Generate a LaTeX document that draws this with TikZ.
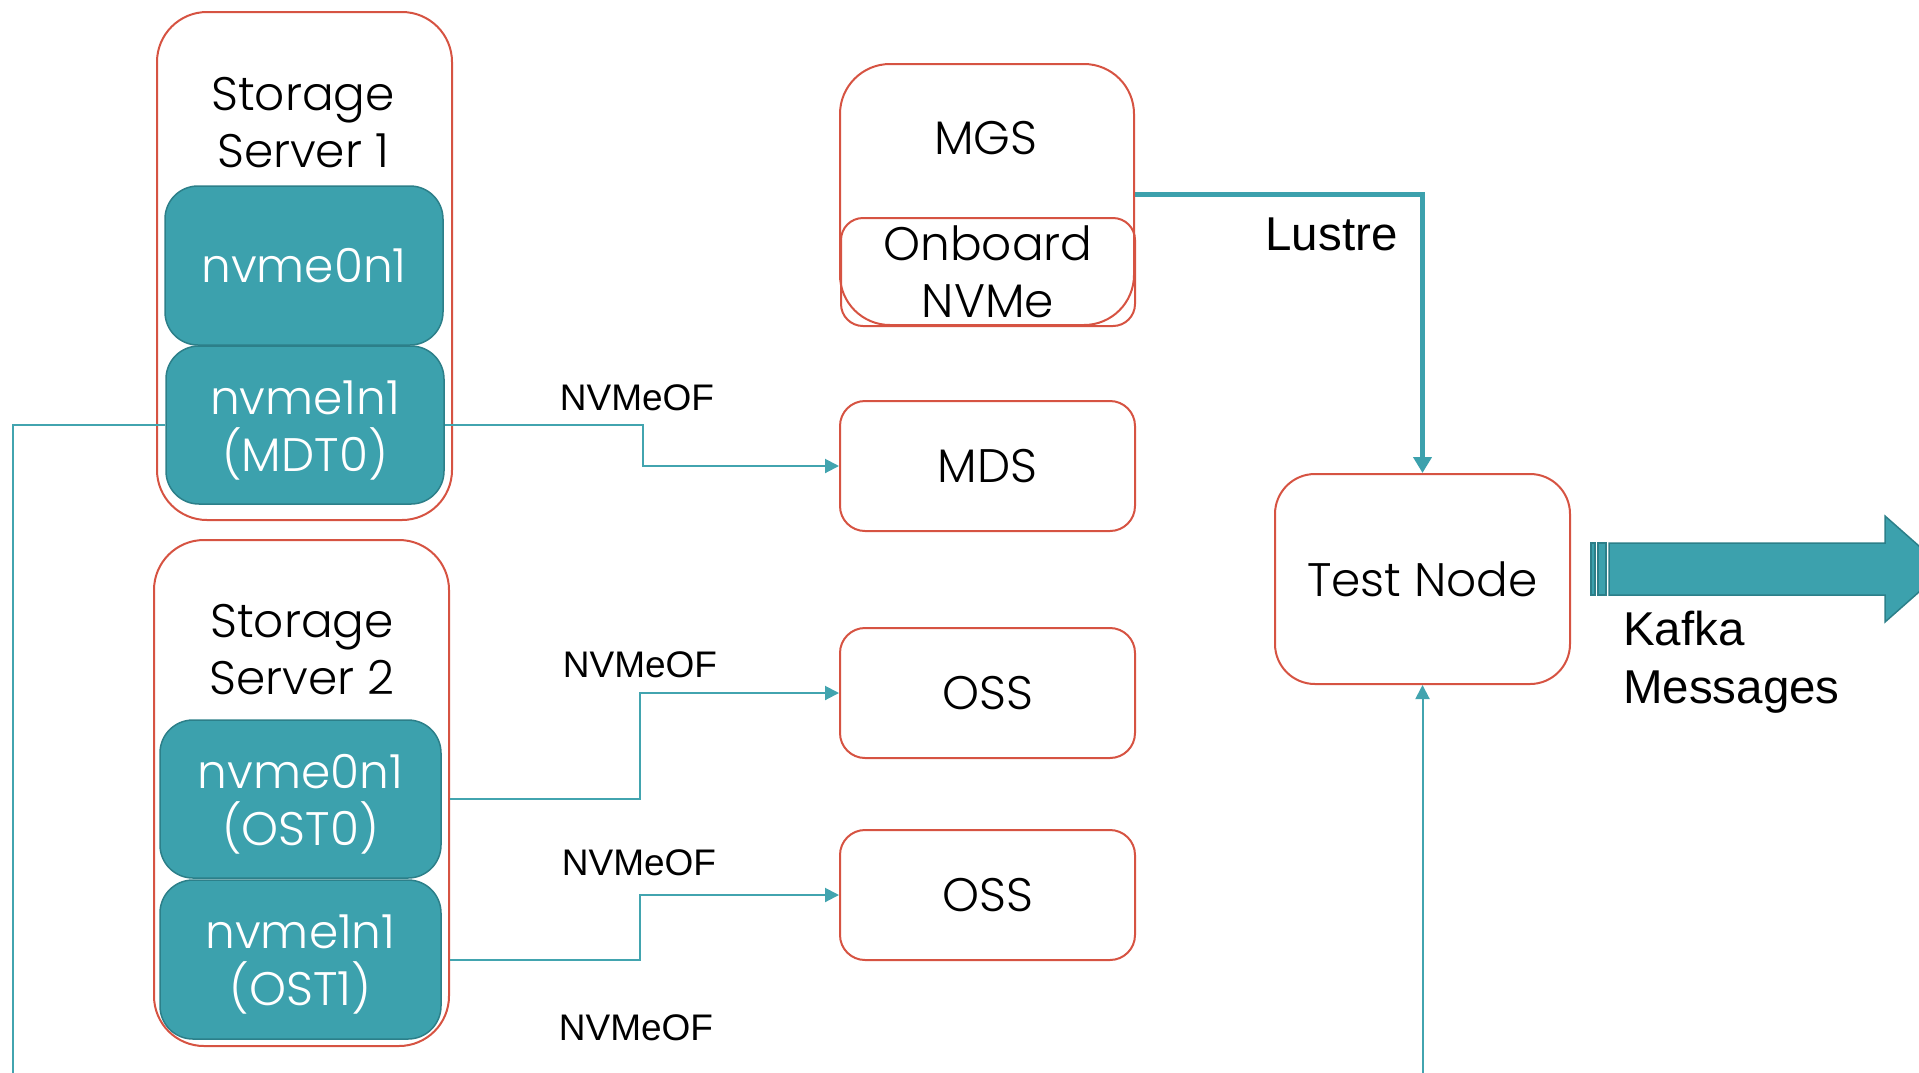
\documentclass[tikz,border=0pt]{standalone}
\usepackage{fontspec}
\setmainfont{Poppins}[UprightFont={* Light}]
\newfontfamily\arial{Liberation Sans}
\usetikzlibrary{arrows.meta}
\definecolor{boxred}{HTML}{D65342}
\definecolor{tealfill}{HTML}{3CA1AD}
\definecolor{tealdk}{HTML}{2C7F89}
\definecolor{tealln}{HTML}{42A4AF}
\newcommand\cgfont{\fontsize{47}{57}\selectfont}
\newcommand\lblfont{\arial\fontsize{37}{44}\selectfont}
\newcommand\bigfont{\arial\fontsize{47.5}{58}\selectfont}
\newcommand\lowstrut{\rule{0pt}{44pt}}
\begin{document}
\begin{tikzpicture}[x=1pt,y=-1pt,
  redbox/.style={draw=boxred, line width=2pt, inner sep=0pt},
  disk/.style={draw=tealdk, fill=tealfill, line width=1.5pt, rounded corners=33pt,
    inner sep=0pt, text=white, align=center, font=\cgfont},
  gtext/.style={inner sep=0pt, align=center, font=\cgfont},
  conn/.style={draw=tealln, line width=2pt, -{Triangle[length=14pt,width=14pt]}},
  plain/.style={draw=tealln, line width=2pt},
  thick conn/.style={draw=tealfill, line width=5.5pt, -{Triangle[length=16pt,width=18pt]}},
  nvlbl/.style={inner sep=0pt, font=\lblfont},
]
\useasboundingbox (0,0) rectangle (1919,1072);
\clip (0,0) rectangle (1919,1072);

% Storage server 1
\node[redbox, rounded corners=50pt, minimum width=295pt, minimum height=508pt] (ss1) at (304.5,266) {};
\node[gtext] (ss1t) at (303,123) {Storage\\Server 1};
\node[disk, minimum width=278pt, minimum height=159pt] (d10) at (304,265.5) {nvme0n1};
\node[disk, minimum width=278pt, minimum height=158pt] (mdt) at (305,425) {\lowstrut nvme1n1\\(MDT0)};

% Storage server 2
\node[redbox, rounded corners=50pt, minimum width=295pt, minimum height=506pt] (ss2) at (301.5,793) {};
\node[gtext] (ss2t) at (302,650) {Storage\\Server 2};
\node[disk, minimum width=281pt, minimum height=158pt] (ost0) at (300.5,799) {\lowstrut nvme0n1\\(OST0)};
\node[disk, minimum width=281pt, minimum height=159pt] (ost1) at (300.5,959.5) {\lowstrut nvme1n1\\(OST1)};

% MGS
\node[redbox, rounded corners=50pt, minimum width=294pt, minimum height=261pt] (mgs) at (987,194.5) {};
\node[gtext] (mgst) at (986,138) {MGS};
\node[redbox, rounded corners=22pt, minimum width=294pt, minimum height=108pt, align=center, font=\cgfont] (onb) at (988,272) {Onboard\\NVMe};

% Servers
\node[redbox, rounded corners=25pt, minimum width=295pt, minimum height=130pt, font=\cgfont] (mds) at (987.5,466) {MDS};
\node[redbox, rounded corners=25pt, minimum width=295pt, minimum height=130pt, font=\cgfont] (oss1) at (987.5,693) {OSS};
\node[redbox, rounded corners=25pt, minimum width=295pt, minimum height=130pt, font=\cgfont] (oss2) at (987.5,895) {OSS};
\node[redbox, rounded corners=40pt, minimum width=295pt, minimum height=210pt, font=\cgfont] (test) at (1422.5,579) {Test Node};

% Labels
\node[nvlbl] (l1) at (637,398) {NVMeOF};
\node[nvlbl] (l2) at (640,665) {NVMeOF};
\node[nvlbl] (l3) at (639,863) {NVMeOF};
\node[nvlbl] (l4) at (636,1028) {NVMeOF};
\node[inner sep=0pt, font=\bigfont] (lustre) at (1331.5,234) {Lustre};
\node[inner sep=0pt, font=\bigfont, align=left, anchor=west] (kafka) at (1623,662) {Kafka\\Messages};

% Connectors
\coordinate (j1) at (643,0);
\coordinate (j2) at (640,0);
\coordinate (leftend) at (13,1090);
\coordinate (botend) at (1422.5,1090);
\draw[conn] (mdt.east) -- (mdt.east -| j1) |- (mds.west);
\draw[conn] (ost0.east -| ss2.east) -- (ost0.east -| j2) |- (oss1.west);
\draw[conn] (ost1.east -| ss2.east) -- (ost1.east -| j2) |- (oss2.west);
\draw[plain] (mdt.west) -| (leftend);
\draw[conn] (botend) -- (test.south);
\draw[thick conn] (mgs.east) -| (test.north);

% Kafka arrow
\begin{scope}[fill=tealfill, draw=tealdk, line width=1.5pt]
\filldraw (1591,543) rectangle (1595,595);
\filldraw (1598,543) rectangle (1606,595);
\filldraw (1609,543) -- (1885,543) -- (1885,516) -- (1945,569) -- (1885,622) -- (1885,595) -- (1609,595) -- cycle;
\end{scope}
\end{tikzpicture}
\end{document}
